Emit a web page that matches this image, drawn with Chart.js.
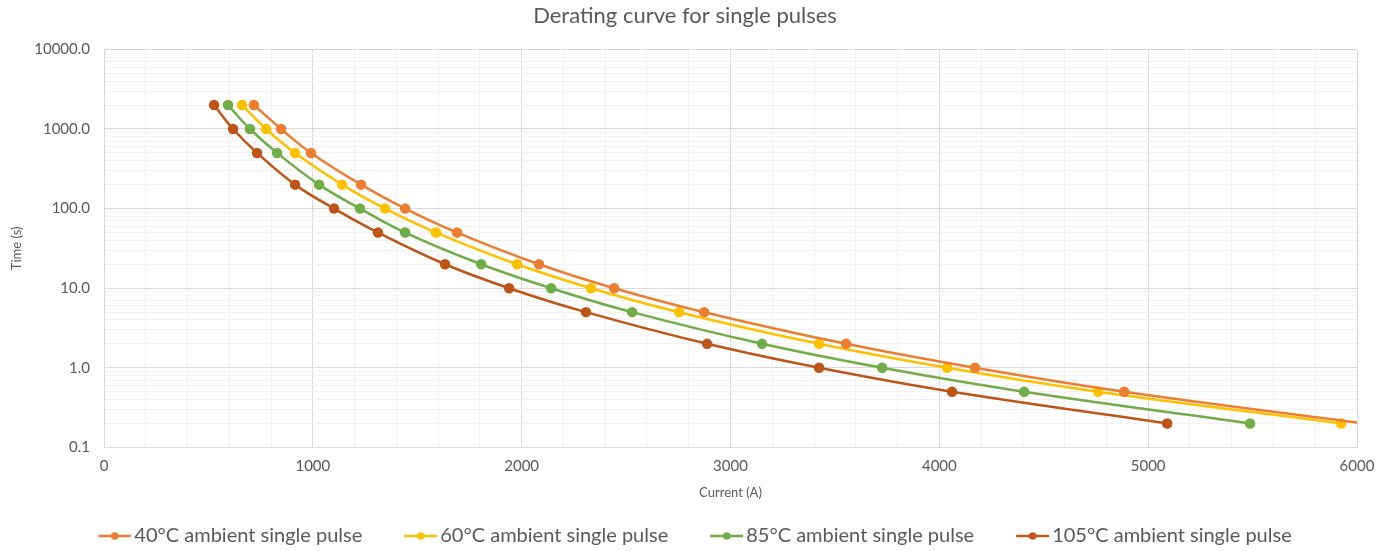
<!DOCTYPE html>
<html>
<head>
<meta charset="utf-8">
<script src="https://cdn.jsdelivr.net/npm/chart.js@4/dist/chart.umd.min.js"></script>
<style>
  body { margin: 0; background: #fff; }
  canvas { display: block; }
</style>
</head>
<body>
<canvas id="deratingChart" width="1394" height="551"></canvas>
<script>
// pulse duration (s) for every point on a curve
const pulseTimes = [2000, 1000, 500, 200, 100, 50, 20, 10, 5, 2, 1, 0.5, 0.2];

// allowed current (A) at each pulse duration, per ambient temperature
const current40 = [718, 848, 991, 1231, 1442, 1691, 2083, 2443, 2874, 3554, 4171, 4885, 6030];
const current60 = [661, 776, 915, 1140, 1346, 1590, 1978, 2332, 2754, 3424, 4037, 4761, 5924];
const current85 = [594, 699, 829, 1030, 1226, 1442, 1806, 2141, 2529, 3151, 3726, 4406, 5488];
const current105 = [527, 618, 733, 915, 1102, 1312, 1633, 1940, 2308, 2888, 3424, 4061, 5091];

const seriesNames = [
    "40°C ambient single pulse",
    "60°C ambient single pulse",
    "85°C ambient single pulse",
    "105°C ambient single pulse"
];
const seriesColors = ["#ED7D31", "#FFC000", "#70AD47", "#BE5516"];

const yDecades = [0.1, 1, 10, 100, 1000, 10000];

const FONT = "Lato, 'Open Sans', sans-serif";
const TEXT_GREY = "#595959";

function toPoints(currents) {
    return currents.map((c, i) => ({ x: c, y: pulseTimes[i] }));
}

function isDecade(v) {
    return yDecades.some(d => Math.abs(d - v) < d * 1e-6);
}

// line-with-marker swatch for the legend; the left part stays blank
// so it doubles as the gap before each entry
const SWATCH_BOX = 56;
function legendSwatch(color) {
    const c = document.createElement("canvas");
    c.width = SWATCH_BOX + 14;
    c.height = 10;
    const g = c.getContext("2d");
    const x0 = c.width - 33;
    g.strokeStyle = color;
    g.lineWidth = 2.5;
    g.beginPath();
    g.moveTo(x0, 5);
    g.lineTo(c.width, 5);
    g.stroke();
    g.fillStyle = color;
    g.beginPath();
    g.arc(x0 + 16.5, 5, 3.8, 0, Math.PI * 2);
    g.fill();
    return c;
}

// nudge title and legend a little left of the canvas centre
const nudgeBoxes = {
    id: "nudgeBoxes",
    afterLayout(chart) {
        const shifts = [[chart.titleBlock, -12], [chart.legend, -17]];
        shifts.forEach(([box, dx]) => {
            if (!box) return;
            box.left += dx;
            box.right += dx;
        });
    }
};

const allSeries = [current40, current60, current85, current105];

const datasets = allSeries.map((cur, i) => ({
    label: seriesNames[i],
    data: toPoints(cur),
    showLine: true,
    borderColor: seriesColors[i],
    backgroundColor: seriesColors[i],
    borderWidth: 2.5,
    pointRadius: 4,
    pointHoverRadius: 4,
    pointStyle: "circle",
    tension: 0.4
}));

const swatches = seriesColors.map(legendSwatch);

new Chart(document.getElementById("deratingChart"), {
    type: "scatter",
    data: { datasets: datasets },
    plugins: [nudgeBoxes],
    options: {
        responsive: false,
        animation: false,
        devicePixelRatio: 1,
        layout: { padding: { top: 3, right: 0, bottom: -5, left: 0 } },
        scales: {
            x: {
                type: "linear",
                min: 0,
                max: 6000,
                afterBuildTicks: scale => {
                    const t = [];
                    for (let v = 0; v <= 6000; v += 200) t.push({ value: v });
                    scale.ticks = t;
                },
                afterFit: scale => { scale.paddingRight = 37; },
                ticks: {
                    autoSkip: false,
                    maxRotation: 0,
                    padding: 10,
                    color: TEXT_GREY,
                    font: { family: FONT, size: 15 },
                    callback: v => (v % 1000 === 0 ? String(v) : "")
                },
                grid: {
                    drawTicks: false,
                    color: ctx => (ctx.tick && ctx.tick.value % 1000 === 0 ? "#D9D9D9" : "#F2F2F2"),
                    lineWidth: 1
                },
                border: { color: "#D9D9D9" },
                title: {
                    display: true,
                    text: "Current (A)",
                    color: TEXT_GREY,
                    font: { family: FONT, size: 13 },
                    padding: { top: 0, bottom: 13 }
                }
            },
            y: {
                type: "logarithmic",
                min: 0.1,
                max: 10000,
                afterBuildTicks: scale => {
                    const t = [];
                    for (let d = 0; d < yDecades.length; d++) {
                        const base = yDecades[d];
                        t.push({ value: base, major: true });
                        if (d < yDecades.length - 1) {
                            for (let m = 2; m <= 9; m++) t.push({ value: base * m });
                        }
                    }
                    scale.ticks = t;
                },
                afterFit: scale => { scale.width = 104; },
                ticks: {
                    autoSkip: false,
                    padding: 14,
                    color: TEXT_GREY,
                    font: { family: FONT, size: 15 },
                    callback: v => (isDecade(v) ? Number(v).toFixed(1) : "")
                },
                grid: {
                    drawTicks: false,
                    color: ctx => (ctx.tick && isDecade(ctx.tick.value) ? "#D9D9D9" : "#F2F2F2"),
                    lineWidth: 1
                },
                border: { color: "#D9D9D9" },
                title: {
                    display: true,
                    text: "Time (s)",
                    color: TEXT_GREY,
                    font: { family: FONT, size: 13 },
                    padding: { top: 9, bottom: 0 }
                }
            }
        },
        plugins: {
            title: {
                display: true,
                text: "Derating curve for single pulses",
                color: TEXT_GREY,
                font: { family: FONT, size: 22, weight: "normal" },
                padding: { top: 0, bottom: 20 }
            },
            legend: {
                position: "bottom",
                labels: {
                    usePointStyle: true,
                    pointStyleWidth: SWATCH_BOX,
                    padding: 12,
                    color: TEXT_GREY,
                    font: { family: FONT, size: 20, lineHeight: 1 },
                    generateLabels: chart => {
                        const items = Chart.defaults.plugins.legend.labels.generateLabels(chart);
                        items.forEach((it, i) => { it.pointStyle = swatches[i]; });
                        return items;
                    }
                }
            },
            tooltip: { enabled: false }
        }
    }
});
</script>
</body>
</html>
